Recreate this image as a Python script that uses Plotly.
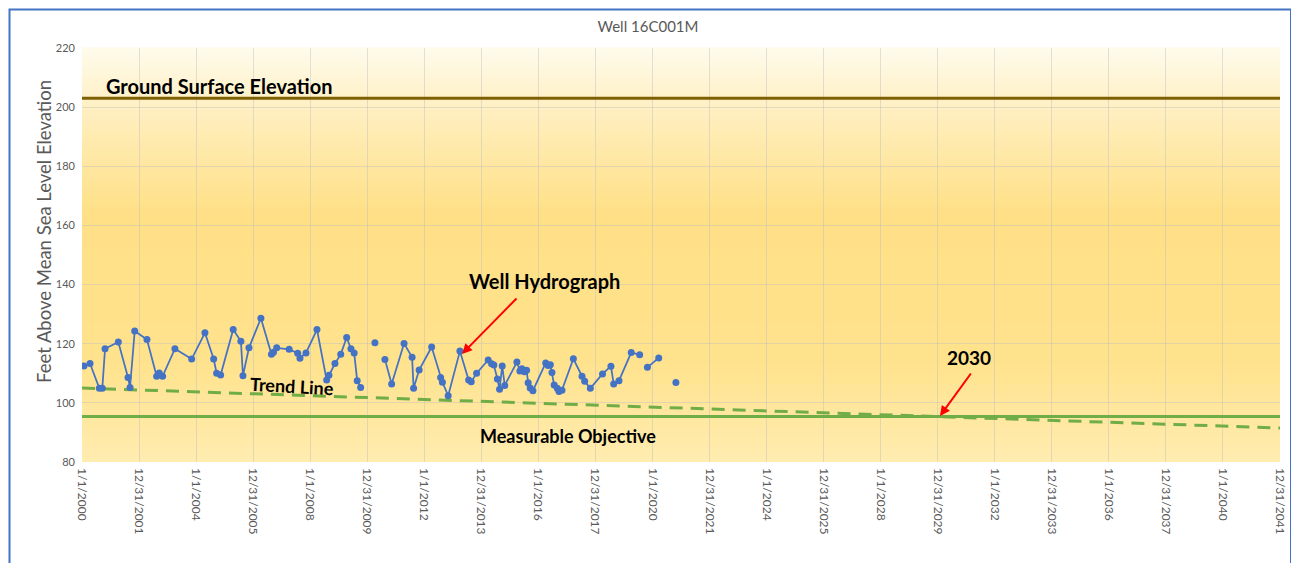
import plotly.graph_objects as go
import pandas as pd

# ---------------- data ----------------
chart_title = "Well 16C001M"
y_title = "Feet Above Mean Sea Level Elevation"

tick_labels = ["1/1/2000", "12/31/2001", "1/1/2004", "12/31/2005", "1/1/2008", "12/31/2009",
               "1/1/2012", "12/31/2013", "1/1/2016", "12/31/2017", "1/1/2020", "12/31/2021",
               "1/1/2024", "12/31/2025", "1/1/2028", "12/31/2029", "1/1/2032", "12/31/2033",
               "1/1/2036", "12/31/2037", "1/1/2040", "12/31/2041"]

hydro_dates = [
    "2000-01-26", "2000-04-13", "2000-08-10", "2000-09-17", "2000-10-22",
    "2001-04-10", "2001-08-12", "2001-09-07", "2001-11-06",
    "2002-04-12", "2002-08-14", "2002-09-16", "2002-10-29",
    "2003-04-05", "2003-11-05",
    "2004-04-23", "2004-08-13", "2004-09-20", "2004-11-10",
    "2005-04-20", "2005-07-28", "2005-08-23", "2005-11-08",
    "2006-04-10", "2006-08-23", "2006-09-18", "2006-10-29",
    "2007-04-07", "2007-07-25", "2007-08-23", "2007-11-08",
    "2008-03-28", "2008-07-30", "2008-08-28", "2008-11-13",
    "2009-01-26", "2009-04-12", "2009-06-06", "2009-07-17", "2009-08-25", "2009-10-08",
    None,
    "2010-04-09",
    None,
    "2010-08-15", "2010-11-09",
    "2011-04-17", "2011-07-29", "2011-08-17", "2011-10-27",
    "2012-04-04", "2012-07-28", "2012-08-20", "2012-11-02",
    "2013-04-01", "2013-07-22", "2013-08-24", "2013-11-01",
    "2014-03-29", "2014-05-12", "2014-06-10", "2014-07-25", "2014-08-22", "2014-09-25", "2014-10-27",
    "2015-04-01", "2015-05-09", "2015-06-04", "2015-07-06", "2015-08-03", "2015-08-23", "2015-09-18", "2015-10-23",
    "2016-04-04", "2016-05-04", "2016-06-02", "2016-06-23", "2016-07-21", "2016-08-30", "2016-09-21", "2016-10-29",
    "2017-03-24", "2017-07-13", "2017-08-16", "2017-10-27",
    "2018-04-01", "2018-07-18", "2018-08-22", "2018-10-29",
    "2019-04-04", "2019-07-21",
    None,
    "2019-10-28", "2020-03-21",
    None,
    "2020-10-27",
]

hydro_values = [
    112.5, 113.3, 104.9, 104.9, 118.3,
    120.6, 108.6, 105.2, 124.3,
    121.4, 109.0, 110.1, 109.0,
    118.3, 114.8,
    123.7, 114.8, 110.0, 109.4,
    124.8, 120.8, 109.2, 118.6,
    128.6, 116.4, 117.1, 118.6,
    118.1, 116.8, 115.1, 116.9,
    124.8, 107.7, 109.3, 113.3,
    116.4, 122.1, 118.3, 116.9, 107.5, 105.2,
    None,
    120.3,
    None,
    114.7, 106.4,
    120.1, 115.4, 104.9, 111.1,
    118.9, 108.6, 107.0, 102.4,
    117.5, 107.7, 107.1, 110.0,
    114.5, 113.2, 112.8, 108.1, 104.6, 112.5, 105.9,
    113.8, 110.8, 111.5, 110.5, 111.0, 106.8, 105.0, 104.1,
    113.5, 112.6, 112.9, 110.3, 106.0, 104.9, 103.8, 104.3,
    114.9, 109.0, 107.3, 104.9,
    109.8, 112.4, 106.4, 107.5,
    117.0, 116.3,
    None,
    112.0, 115.2,
    None,
    106.9,
]

span_dates = ["2000-01-01", "2041-12-31 12:00"]
ground_surface = [203.0, 203.0]
measurable_objective = [95.4, 95.4]
trend_values = [105.0, 91.5]

# ---------------- styling ----------------
W, H = 1299, 563
OFF = 8  # page body margin offset
PAGE_L, PAGE_R, PAGE_T, PAGE_B = 82, 1280, 48, 462   # plot area in page pixels
ML = PAGE_L - OFF
MT = PAGE_T - OFF
MR = W - (PAGE_R - OFF)
MB = H - (PAGE_B - OFF)
PW = W - ML - MR
PH = H - MT - MB
FONT = "Lato"
GRAY = "#595959"


def px_x(x):
    return (x - OFF - ML) / PW


def px_y(y):
    return (H - MB - (y - OFF)) / PH


fig = go.Figure()

fig.add_trace(go.Scatter(x=span_dates, y=ground_surface, mode="lines",
                         line=dict(color="#7F6000", width=3), hoverinfo="skip", showlegend=False))
fig.add_trace(go.Scatter(x=span_dates, y=measurable_objective, mode="lines",
                         line=dict(color="#70AD47", width=3), hoverinfo="skip", showlegend=False))
fig.add_trace(go.Scatter(x=span_dates, y=trend_values, mode="lines",
                         line=dict(color="#70AD47", width=3, dash="13px,8px"), hoverinfo="skip", showlegend=False))
fig.add_trace(go.Scatter(x=hydro_dates, y=hydro_values, mode="lines+markers",
                         line=dict(color="#4472C4", width=1.75),
                         marker=dict(color="#4472C4", size=7),
                         connectgaps=False, showlegend=False))

# gradient background (vertical)
stops = [(0.0, (255, 236, 176)), (0.25, (255, 226, 140)), (0.6, (255, 224, 135)),
         (0.8, (255, 236, 180)), (1.0, (255, 251, 236))]


def col_at(t):
    for (t0, c0), (t1, c1) in zip(stops[:-1], stops[1:]):
        if t0 <= t <= t1:
            f = (t - t0) / (t1 - t0)
            return "rgb(%d,%d,%d)" % tuple(round(a + (b - a) * f) for a, b in zip(c0, c1))
    return "rgb(%d,%d,%d)" % stops[-1][1]


shapes = []
N = 80
for i in range(N):
    y0 = i / N
    y1 = (i + 1) / N
    shapes.append(dict(type="rect", xref="paper", yref="paper", x0=0, x1=1, y0=y0, y1=y1 + 0.002,
                       fillcolor=col_at((y0 + y1) / 2), line=dict(width=0), layer="below"))
# outer chart frame
shapes.append(dict(type="rect", xref="paper", yref="paper",
                   x0=px_x(9.5), x1=px_x(1291), y0=px_y(590), y1=px_y(9.5),
                   line=dict(color="#4472C4", width=2), fillcolor="rgba(0,0,0,0)", layer="below"))

tickvals = pd.to_datetime(tick_labels, format="%m/%d/%Y")

ann_font = dict(family=FONT, color="#000000")
annotations = [
    dict(text="<b>Ground Surface Elevation</b>", x=px_x(104), y=px_y(86), xanchor="left", yanchor="middle",
         font=dict(size=20, **ann_font)),
    dict(text="<b>Well Hydrograph</b>", x=px_x(544), y=px_y(281), xanchor="center", yanchor="middle",
         font=dict(size=20, **ann_font)),
    dict(text="<b>Trend Line</b>", x=px_x(292), y=px_y(386), xanchor="center", yanchor="middle",
         textangle=3, font=dict(size=18, **ann_font)),
    dict(text="<b>Measurable Objective</b>", x=px_x(568), y=px_y(436), xanchor="center", yanchor="middle",
         font=dict(size=18, **ann_font)),
    dict(text="<b>2030</b>", x=px_x(969), y=px_y(357), xanchor="center", yanchor="middle",
         font=dict(size=19, **ann_font)),
    dict(text=y_title, x=px_x(44), y=px_y(232), xanchor="center", yanchor="middle", textangle=-90,
         font=dict(family=FONT, size=18.5, color=GRAY)),
]
for a in annotations:
    a.update(xref="paper", yref="paper", showarrow=False)

arrows = [
    dict(x=px_x(462), y=px_y(354), ax=56, ay=-57),
    dict(x=px_x(940), y=px_y(416), ax=32, ay=-44),
]
for a in arrows:
    a.update(xref="paper", yref="paper", text="", showarrow=True, arrowhead=2, arrowsize=1,
             arrowwidth=2, arrowcolor="#FF0000", axref="pixel", ayref="pixel")
annotations += arrows

fig.update_layout(
    width=W, height=H,
    margin=dict(l=ML, r=MR, t=MT, b=MB, autoexpand=False),
    paper_bgcolor="white",
    plot_bgcolor="rgba(0,0,0,0)",
    title=dict(text=chart_title, x=(648 - OFF) / W, xanchor="center",
               y=1 - (27 - OFF) / H, yanchor="middle",
               font=dict(family=FONT, size=15, color=GRAY)),
    font=dict(family=FONT, color=GRAY),
    shapes=shapes,
    annotations=annotations,
    xaxis=dict(type="date", range=span_dates, tickvals=tickvals, ticktext=tick_labels,
               tickangle=90, tickfont=dict(family=FONT, size=12, color=GRAY),
               showgrid=True, gridcolor="rgba(190,190,190,0.45)", gridwidth=1, zeroline=False,
               showline=False, ticks="", ticklabelstandoff=5, automargin=False),
    yaxis=dict(range=[80, 220], dtick=20, tickfont=dict(family=FONT, size=11, color=GRAY),
               showgrid=True, gridcolor="rgba(190,190,190,0.45)", gridwidth=1, zeroline=False, showline=False,
               ticks="", ticklabelstandoff=6, automargin=False),
)

fig.write_html("out.html")
